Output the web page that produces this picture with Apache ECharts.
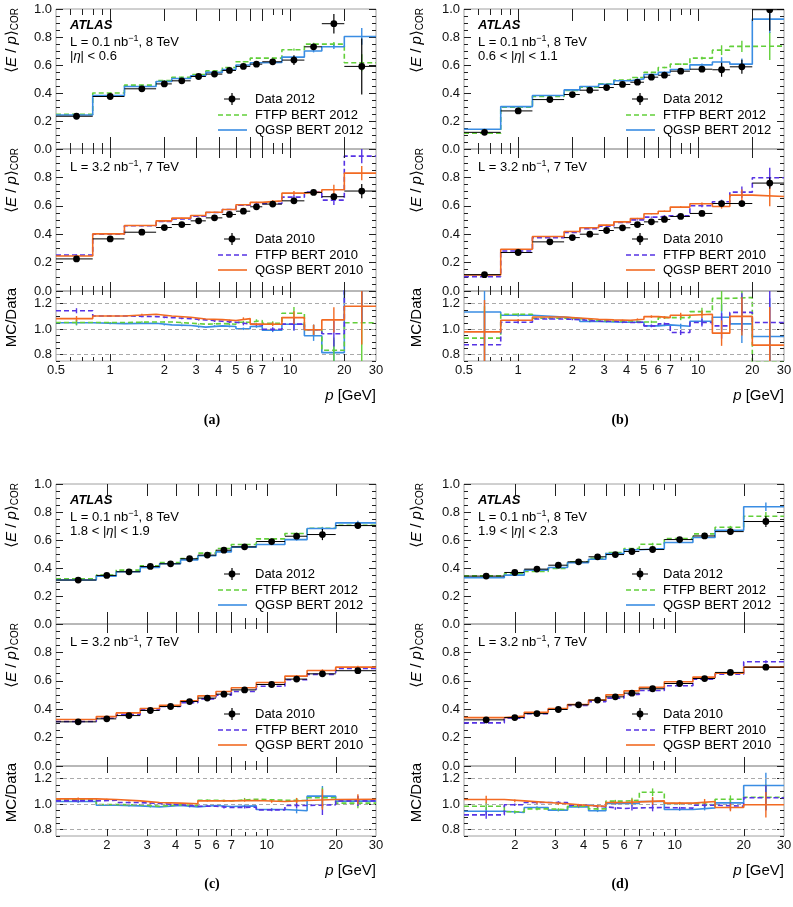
<!DOCTYPE html>
<html><head><meta charset="utf-8">
<script src="https://cdn.jsdelivr.net/npm/echarts@6/dist/echarts.min.js"></script>
<style>html,body{margin:0;padding:0;background:#fff}#c{width:793px;height:907px}</style>
</head><body><div id="c"></div>
<script>
// ---------- bins & ticks ----------
const binsAB = [0.5,0.8,1.2,1.8,2.2,2.8,3.4,4.2,5,6,7,9,12,15,20,30];
const binsCD = [1.2,1.8,2.2,2.8,3.4,4.2,5,6,7,9,12,15,20,30];
const majorTicksAB = [1,2,3,4,5,6,7,10,20];
const minorTicksAB = [0.6,0.7,0.8,0.9,8,9];
const tickLabelsAB = [0.5,1,2,3,4,5,6,7,10,20,30];
const majorTicksCD = [2,3,4,5,6,7,10,20];
const minorTicksCD = [8,9];
const tickLabelsCD = [2,3,4,5,6,7,10,20,30];
const ratioTickLabels = [0.8,1.0,1.2];
const etaLabels = ['|{i|η}| < 0.6','0.6 < |{i|η}| < 1.1','1.8 < |{i|η}| < 1.9','1.9 < |{i|η}| < 2.3'];
const panelTags = ['(a)','(b)','(c)','(d)'];

// ---------- panel (a) ----------
const a_data12 = [0.234,0.375,0.430,0.465,0.487,0.518,0.535,0.561,0.590,0.606,0.623,0.635,0.730,0.895,0.590];
const a_data12Err = [0.006,0.006,0.006,0.006,0.006,0.006,0.006,0.007,0.008,0.010,0.012,0.035,0.012,0.07,0.20];
const a_ftfp12 = [0.248,0.400,0.456,0.489,0.513,0.532,0.558,0.582,0.623,0.649,0.649,0.709,0.749,0.749,0.616];
const a_qgsp12 = [0.243,0.382,0.446,0.482,0.504,0.523,0.547,0.568,0.600,0.616,0.618,0.656,0.700,0.730,0.804];
const a_mc12Err = [0.003,0.003,0.003,0.003,0.003,0.003,0.003,0.003,0.004,0.004,0.005,0.008,0.01,0.015,0.06];
const a_data10 = [0.226,0.367,0.414,0.447,0.468,0.494,0.515,0.539,0.562,0.593,0.612,0.635,0.694,0.664,0.704];
const a_data10Err = [0.004,0.004,0.004,0.004,0.004,0.004,0.004,0.005,0.005,0.006,0.007,0.008,0.01,0.02,0.05];
const a_ftfp10 = [0.254,0.400,0.459,0.489,0.508,0.527,0.553,0.574,0.605,0.616,0.616,0.661,0.696,0.640,0.950];
const a_qgsp10 = [0.247,0.402,0.461,0.494,0.513,0.532,0.555,0.574,0.607,0.624,0.635,0.689,0.696,0.713,0.830];
const a_mc10Err = [0.003,0.003,0.003,0.003,0.003,0.003,0.003,0.003,0.004,0.004,0.005,0.015,0.01,0.035,0.05];
const a_rFtfp12 = [1.052,1.052,1.057,1.057,1.047,1.039,1.044,1.039,1.055,1.068,1.047,1.125,0.995,0.834,1.050];
const a_rQgsp12 = [1.050,1.044,1.047,1.034,1.029,1.016,1.026,1.021,1.003,1.021,0.992,1.039,0.948,0.816,1.360];
const a_rFtfp10 = [1.145,1.104,1.099,1.091,1.083,1.073,1.062,1.055,1.040,1.034,1.000,1.040,0.995,0.964,1.350];
const a_rQgsp10 = [1.083,1.104,1.117,1.104,1.094,1.080,1.075,1.068,1.083,1.040,1.039,1.091,0.995,1.073,1.180];
const a_rErr = [0.02,0.005,0.005,0.005,0.005,0.005,0.005,0.007,0.01,0.01,0.015,0.05,0.04,0.1,0.3];

// ---------- panel (b) ----------
const b_data12 = [0.119,0.272,0.353,0.389,0.420,0.439,0.461,0.477,0.513,0.527,0.556,0.570,0.566,0.587,0.995];
const b_data12Err = [0.005,0.005,0.005,0.005,0.005,0.005,0.005,0.006,0.007,0.008,0.01,0.015,0.05,0.05,0.15];
const b_ftfp12 = [0.112,0.298,0.375,0.418,0.441,0.465,0.492,0.511,0.547,0.582,0.606,0.649,0.706,0.733,0.735];
const b_qgsp12 = [0.141,0.303,0.382,0.422,0.446,0.463,0.487,0.501,0.532,0.547,0.568,0.601,0.621,0.606,0.928];
const b_mc12Err = [0.004,0.003,0.003,0.003,0.003,0.003,0.003,0.004,0.004,0.005,0.006,0.01,0.035,0.04,0.1];
const b_data10 = [0.115,0.271,0.346,0.376,0.400,0.426,0.445,0.468,0.487,0.504,0.525,0.546,0.616,0.616,0.760];
const b_data10Err = [0.005,0.004,0.004,0.004,0.004,0.004,0.004,0.005,0.005,0.006,0.007,0.01,0.015,0.02,0.04];
const b_ftfp10 = [0.101,0.282,0.376,0.412,0.438,0.456,0.482,0.501,0.520,0.529,0.529,0.600,0.628,0.696,0.798];
const b_qgsp10 = [0.113,0.294,0.384,0.419,0.445,0.464,0.487,0.511,0.544,0.562,0.591,0.614,0.595,0.675,0.666];
const b_mc10Err = [0.004,0.003,0.003,0.003,0.003,0.003,0.003,0.004,0.004,0.005,0.006,0.01,0.015,0.04,0.07];
const b_rFtfp12 = [0.930,1.117,1.086,1.083,1.068,1.062,1.065,1.057,1.057,1.091,1.091,1.138,1.242,1.249,0.740];
const b_rQgsp12 = [1.135,1.109,1.096,1.083,1.060,1.057,1.055,1.055,1.026,1.034,1.023,1.062,1.094,1.042,0.943];
const b_rFtfp10 = [0.878,1.055,1.080,1.075,1.062,1.062,1.052,1.055,1.026,1.042,0.974,1.052,1.026,1.132,1.052];
const b_rQgsp10 = [0.979,1.070,1.096,1.088,1.078,1.073,1.070,1.078,1.099,1.091,1.109,1.117,0.969,1.101,0.875];
const b_rErr = [0.25,0.01,0.005,0.005,0.005,0.005,0.005,0.007,0.01,0.01,0.02,0.03,0.1,0.15,0.3];

// ---------- panel (c) ----------
const c_data12 = [0.314,0.347,0.373,0.411,0.430,0.466,0.492,0.527,0.551,0.589,0.627,0.639,0.703];
const c_data12Err = [0.004,0.004,0.004,0.004,0.004,0.005,0.005,0.006,0.007,0.01,0.012,0.04,0.02];
const c_ftfp12 = [0.323,0.349,0.385,0.416,0.439,0.468,0.506,0.539,0.568,0.608,0.646,0.684,0.705];
const c_qgsp12 = [0.314,0.342,0.373,0.404,0.430,0.458,0.487,0.515,0.549,0.568,0.603,0.682,0.722];
const c_mc12Err = [0.003,0.003,0.003,0.003,0.003,0.003,0.003,0.004,0.004,0.005,0.008,0.01,0.015];
const c_data10 = [0.311,0.332,0.355,0.391,0.419,0.454,0.478,0.506,0.536,0.574,0.612,0.649,0.671];
const c_data10Err = [0.003,0.003,0.003,0.003,0.003,0.004,0.004,0.005,0.005,0.006,0.008,0.01,0.015];
const c_ftfp10 = [0.313,0.336,0.362,0.395,0.419,0.445,0.473,0.499,0.525,0.562,0.607,0.645,0.687];
const c_qgsp10 = [0.327,0.348,0.374,0.405,0.428,0.459,0.494,0.525,0.551,0.588,0.633,0.673,0.696];
const c_mc10Err = [0.003,0.003,0.003,0.003,0.003,0.003,0.003,0.004,0.004,0.005,0.006,0.008,0.01];
const c_rFtfp12 = [1.037,0.997,0.995,0.984,0.995,0.990,1.031,1.026,1.039,1.031,1.029,1.050,1.008];
const c_rQgsp12 = [1.021,0.992,0.987,0.979,0.990,0.979,0.990,0.982,0.987,0.958,0.948,1.063,1.024];
const c_rFtfp10 = [1.026,1.031,1.013,1.005,0.995,0.984,0.984,0.974,0.976,0.955,0.990,0.995,1.026];
const c_rQgsp10 = [1.042,1.037,1.026,1.013,1.008,1.003,1.026,1.026,1.029,1.021,1.029,1.037,1.039];
const c_rErr = [0.01,0.005,0.005,0.005,0.005,0.005,0.006,0.008,0.01,0.01,0.02,0.08,0.04];

// ---------- panel (d) ----------
const d_data12 = [0.342,0.368,0.392,0.420,0.444,0.480,0.496,0.518,0.532,0.603,0.629,0.660,0.732];
const d_data12Err = [0.004,0.004,0.004,0.004,0.004,0.005,0.005,0.006,0.007,0.01,0.012,0.015,0.04];
const d_ftfp12 = [0.344,0.359,0.375,0.397,0.444,0.470,0.511,0.539,0.570,0.610,0.644,0.691,0.770];
const d_qgsp12 = [0.330,0.349,0.385,0.404,0.437,0.463,0.504,0.530,0.539,0.582,0.618,0.670,0.838];
const d_mc12Err = [0.004,0.003,0.003,0.003,0.003,0.003,0.004,0.004,0.01,0.005,0.008,0.01,0.03];
const d_data10 = [0.325,0.341,0.369,0.398,0.431,0.464,0.487,0.513,0.544,0.581,0.616,0.659,0.696];
const d_data10Err = [0.003,0.003,0.003,0.003,0.003,0.004,0.004,0.005,0.005,0.006,0.008,0.01,0.015];
const d_ftfp10 = [0.304,0.336,0.369,0.400,0.426,0.452,0.478,0.504,0.532,0.565,0.612,0.647,0.734];
const d_qgsp10 = [0.341,0.351,0.379,0.405,0.433,0.464,0.501,0.529,0.555,0.593,0.626,0.654,0.696];
const d_mc10Err = [0.003,0.003,0.003,0.003,0.003,0.003,0.003,0.004,0.004,0.005,0.006,0.008,0.01];
const d_rFtfp12 = [0.984,0.940,0.963,0.958,0.984,0.963,1.024,1.031,1.094,1.005,0.995,1.039,1.055];
const d_rQgsp12 = [0.945,0.935,0.974,0.953,0.979,0.948,1.005,1.005,1.021,0.958,0.971,1.010,1.147];
const d_rFtfp10 = [0.916,0.995,1.013,1.013,0.992,0.979,0.966,0.971,0.974,0.969,0.992,0.984,1.050];
const d_rQgsp10 = [1.037,1.026,1.013,1.003,0.990,0.984,1.013,1.018,1.026,1.008,1.021,0.974,0.995];
const d_rErr = [0.03,0.01,0.01,0.01,0.01,0.01,0.01,0.02,0.03,0.01,0.02,0.03,0.1];

// ---------- assemble ----------
const panels = [
  {bins:binsAB, xmin:0.5, major:majorTicksAB, minor:minorTicksAB, labels:tickLabelsAB,
   d12:a_data12,e12:a_data12Err,f12:a_ftfp12,q12:a_qgsp12,m12:a_mc12Err,
   d10:a_data10,e10:a_data10Err,f10:a_ftfp10,q10:a_qgsp10,m10:a_mc10Err,
   rf12:a_rFtfp12,rq12:a_rQgsp12,rf10:a_rFtfp10,rq10:a_rQgsp10,re:a_rErr},
  {bins:binsAB, xmin:0.5, major:majorTicksAB, minor:minorTicksAB, labels:tickLabelsAB,
   d12:b_data12,e12:b_data12Err,f12:b_ftfp12,q12:b_qgsp12,m12:b_mc12Err,
   d10:b_data10,e10:b_data10Err,f10:b_ftfp10,q10:b_qgsp10,m10:b_mc10Err,
   rf12:b_rFtfp12,rq12:b_rQgsp12,rf10:b_rFtfp10,rq10:b_rQgsp10,re:b_rErr},
  {bins:binsCD, xmin:1.2, major:majorTicksCD, minor:minorTicksCD, labels:tickLabelsCD,
   d12:c_data12,e12:c_data12Err,f12:c_ftfp12,q12:c_qgsp12,m12:c_mc12Err,
   d10:c_data10,e10:c_data10Err,f10:c_ftfp10,q10:c_qgsp10,m10:c_mc10Err,
   rf12:c_rFtfp12,rq12:c_rQgsp12,rf10:c_rFtfp10,rq10:c_rQgsp10,re:c_rErr},
  {bins:binsCD, xmin:1.2, major:majorTicksCD, minor:minorTicksCD, labels:tickLabelsCD,
   d12:d_data12,e12:d_data12Err,f12:d_ftfp12,q12:d_qgsp12,m12:d_mc12Err,
   d10:d_data10,e10:d_data10Err,f10:d_ftfp10,q10:d_qgsp10,m10:d_mc10Err,
   rf12:d_rFtfp12,rq12:d_rQgsp12,rf10:d_rFtfp10,rq10:d_rQgsp10,re:d_rErr}
];
const pos = [{L:56,T:9},{L:464,T:9},{L:56,T:484},{L:464,T:484}];
const W = 320, H1 = 140, H2 = 142, H3 = 70;
const FONT = '"Liberation Sans", Arial, Helvetica, "DejaVu Sans", sans-serif';
const C = {f12:'#62cf3a', q12:'#3a8de3', f10:'#5633e4', q10:'#f26a22'};
const TICKC = '#222';

const grids=[], xAxis=[], yAxis=[], series=[], graphic=[];

function yAx(gi, o){ yAxis.push(Object.assign({type:'value', gridIndex:gi, axisLine:{show:false}, splitLine:{show:false}}, o)); return yAxis.length-1; }
function unitAxes(gi, hideMax){
  const tick = {show:true, inside:true, length:7, lineStyle:{color:TICKC, width:1}};
  const mtick = {show:true, splitNumber:4, length:4, lineStyle:{color:TICKC, width:1}};
  const main = yAx(gi,{min:0,max:1,interval:0.2,position:'left',axisTick:tick,minorTick:mtick,
    axisLabel:{show:true,margin:4,fontSize:13,fontFamily:FONT,color:'#111',formatter:v=>v.toFixed(1),showMaxLabel:!hideMax,showMinLabel:true}});
  yAx(gi,{min:0,max:1,interval:0.2,position:'right',axisTick:tick,minorTick:mtick,axisLabel:{show:false}});
  return main;
}
function ratioAxes(gi){
  const isLab = v => ratioTickLabels.some(t=>Math.abs(t-v)<1e-6);
  const mt = {show:true, inside:true, length:4, lineStyle:{color:TICKC, width:1}};
  const Mt = {show:true, inside:true, length:7, customValues:ratioTickLabels, lineStyle:{color:TICKC, width:1}};
  const main = yAx(gi,{min:0.75,max:1.3,interval:0.05,position:'left',axisTick:mt,
    axisLabel:{show:true,margin:4,fontSize:13,fontFamily:FONT,color:'#111',formatter:v=>isLab(v)?v.toFixed(1):''}});
  yAx(gi,{min:0.75,max:1.3,position:'left',axisTick:Mt,axisLabel:{show:false}});
  yAx(gi,{min:0.75,max:1.3,interval:0.05,position:'right',axisTick:mt,axisLabel:{show:false}});
  yAx(gi,{min:0.75,max:1.3,position:'right',axisTick:Mt,axisLabel:{show:false}});
  return main;
}
function edgesData(bins, vals){ return bins.map((e,i)=>[e, vals[Math.min(i, vals.length-1)]]); }
function stepLine(xi, yi, bins, vals, color, dashed, z){
  return {type:'line', xAxisIndex:xi, yAxisIndex:yi, step:'end', symbol:'none', showSymbol:false, silent:true, clip:true,
    z:z, data:edgesData(bins, vals), lineStyle:{color:color, width:1.6, type: dashed ? [5,3] : 'solid'}};
}
function centers(bins, vals, errs){ return vals.map((v,i)=>[(bins[i]+bins[i+1])/2, v, bins[i], bins[i+1], errs[i]]); }
function errSeries(xi, yi, bins, vals, errs, color, z){
  return {type:'custom', xAxisIndex:xi, yAxisIndex:yi, silent:true, clip:true, z:z, data:centers(bins, vals, errs),
    renderItem:(p, api)=>{
      const t = api.coord([api.value(0), api.value(1)+api.value(4)]);
      const b = api.coord([api.value(0), api.value(1)-api.value(4)]);
      return {type:'line', shape:{x1:t[0],y1:t[1],x2:b[0],y2:b[1]}, style:{stroke:color, lineWidth:1.4}};
    }};
}
function dataSeries(xi, yi, bins, vals, errs){
  return {type:'custom', xAxisIndex:xi, yAxisIndex:yi, silent:true, clip:true, z:10, data:centers(bins, vals, errs),
    renderItem:(p, api)=>{
      const c = api.coord([api.value(0), api.value(1)]);
      const l = api.coord([api.value(2), api.value(1)]);
      const r = api.coord([api.value(3), api.value(1)]);
      const t = api.coord([api.value(0), api.value(1)+api.value(4)]);
      const b = api.coord([api.value(0), api.value(1)-api.value(4)]);
      return {type:'group', children:[
        {type:'line', shape:{x1:l[0],y1:c[1],x2:r[0],y2:c[1]}, style:{stroke:'#000', lineWidth:1}},
        {type:'line', shape:{x1:c[0],y1:t[1],x2:c[0],y2:b[1]}, style:{stroke:'#000', lineWidth:1.2}},
        {type:'circle', shape:{cx:c[0],cy:c[1],r:3.4}, style:{fill:'#000'}}
      ]};
    }};
}
function tickSeries(xi, yi, vals, yv, lenB, lenT){
  return {type:'custom', xAxisIndex:xi, yAxisIndex:yi, silent:true, clip:false, z:6, data:vals.map(v=>[v,yv]),
    renderItem:(p, api)=>{
      const cs = p.coordSys; const x = Math.round(api.coord([api.value(0), api.value(1)])[0]) + 0.5;
      const ch = [];
      if (lenB) ch.push({type:'line', shape:{x1:x,y1:cs.y+cs.height,x2:x,y2:cs.y+cs.height-lenB}, style:{stroke:TICKC,lineWidth:1}});
      if (lenT) ch.push({type:'line', shape:{x1:x,y1:cs.y,x2:x,y2:cs.y+lenT}, style:{stroke:TICKC,lineWidth:1}});
      return {type:'group', children:ch};
    }};
}
function labelSeries(xi, yi, vals, yv){
  return {type:'custom', xAxisIndex:xi, yAxisIndex:yi, silent:true, clip:false, z:6, data:vals.map(v=>[v,yv]),
    renderItem:(p, api)=>{
      const cs = p.coordSys; const x = api.coord([api.value(0), api.value(1)])[0];
      return {type:'text', x:x, y:cs.y+cs.height+3, style:{text:String(api.value(0)), align:'center', verticalAlign:'top',
        textAlign:'center', textVerticalAlign:'top', fontSize:13, fontFamily:FONT, fill:'#111'}};
    }};
}
function txt(x, y, text, o){
  graphic.push({type:'text', x:x, y:y, silent:true, z:100, rotation:(o&&o.rot)||0,
    style:Object.assign({text:text, fontSize:13, fontFamily:FONT, fill:'#000', align:'left', verticalAlign:'middle'}, o&&o.style||{})});
}
function ln(x1,y1,x2,y2,color,dash,w){
  graphic.push({type:'line', silent:true, z:100, shape:{x1,y1,x2,y2}, style:{stroke:color, lineWidth:w||1.6, lineDash:dash||null}});
}
function legend(L, T, year, fc, qc, fDash){
  const my = T+90;
  ln(L+168, my, L+184, my, '#000', null, 1);
  ln(L+176, my-6, L+176, my+6, '#000', null, 1.2);
  graphic.push({type:'circle', silent:true, z:100, shape:{cx:L+176, cy:my, r:3.4}, style:{fill:'#000'}});
  txt(L+199, my, 'Data '+year);
  ln(L+162, T+106, L+191, T+106, fc, [5,3]);
  txt(L+199, T+106, 'FTFP BERT '+year);
  ln(L+162, T+121, L+191, T+121, qc, null);
  txt(L+199, T+121, 'QGSP BERT '+year);
}
const richBase = {
  n:{fontSize:15, fontFamily:FONT}, i:{fontSize:15, fontFamily:FONT, fontStyle:'italic'},
  s:{fontSize:10, fontFamily:FONT, verticalAlign:'bottom', padding:[6,0,0,0]}
};
const smallRich = {
  n:{fontSize:13, fontFamily:FONT}, i:{fontSize:13, fontFamily:FONT, fontStyle:'italic'},
  sup:{fontSize:9, fontFamily:FONT, verticalAlign:'top', padding:[0,0,7,0]}
};

panels.forEach((P, k) => {
  const {L, T} = pos[k];
  const g0 = grids.length;
  const tops = [T, T+H1, T+H1+H2], hs = [H1, H2, H3];
  for (let j=0;j<3;j++){
    grids.push({left:L, top:tops[j], width:W, height:hs[j], show:true, borderColor:'#a0a0a0', borderWidth:1,
      backgroundColor:'transparent', containLabel:false, outerBoundsMode:'none'});
    xAxis.push({type:'log', logBase:10, gridIndex:g0+j, min:P.xmin, max:30, axisLine:{show:false}, axisTick:{show:false},
      axisLabel:{show:false}, splitLine:{show:false}, minorTick:{show:false}, minorSplitLine:{show:false}});
  }
  const y0 = unitAxes(g0, false), y1 = unitAxes(g0+1, true), y2 = ratioAxes(g0+2);
  const tl = [[12,6],[9,5],[7,4]];
  [[g0,y0,0.5],[g0+1,y1,0.5],[g0+2,y2,1.0]].forEach(([xi, yi, yv], j) => {
    series.push(tickSeries(xi, yi, P.major, yv, tl[j][0], tl[j][0]));
    series.push(tickSeries(xi, yi, P.minor, yv, tl[j][1], tl[j][1]));
  });
  series.push(labelSeries(g0+2, y2, P.labels, 1.0));
  // top: 2012
  series.push(stepLine(g0, y0, P.bins, P.f12, C.f12, true, 3));
  series.push(stepLine(g0, y0, P.bins, P.q12, C.q12, false, 4));
  series.push(errSeries(g0, y0, P.bins, P.f12, P.m12, C.f12, 3));
  series.push(errSeries(g0, y0, P.bins, P.q12, P.m12, C.q12, 4));
  series.push(dataSeries(g0, y0, P.bins, P.d12, P.e12));
  // middle: 2010
  series.push(stepLine(g0+1, y1, P.bins, P.f10, C.f10, true, 3));
  series.push(stepLine(g0+1, y1, P.bins, P.q10, C.q10, false, 4));
  series.push(errSeries(g0+1, y1, P.bins, P.f10, P.m10, C.f10, 3));
  series.push(errSeries(g0+1, y1, P.bins, P.q10, P.m10, C.q10, 4));
  series.push(dataSeries(g0+1, y1, P.bins, P.d10, P.e10));
  // ratio
  const rl = stepLine(g0+2, y2, P.bins, P.rq12, C.q12, false, 3);
  rl.markLine = {silent:true, symbol:'none', animation:false, label:{show:false},
    lineStyle:{color:'#aaaaaa', type:[4,3], width:1}, data: ratioTickLabels.map(v=>({yAxis:v}))};
  series.push(rl);
  series.push(errSeries(g0+2, y2, P.bins, P.rq12, P.re, C.q12, 3));
  series.push(stepLine(g0+2, y2, P.bins, P.rf12, C.f12, true, 4));
  series.push(errSeries(g0+2, y2, P.bins, P.rf12, P.re, C.f12, 4));
  series.push(stepLine(g0+2, y2, P.bins, P.rf10, C.f10, true, 5));
  series.push(errSeries(g0+2, y2, P.bins, P.rf10, P.re, C.f10, 5));
  series.push(stepLine(g0+2, y2, P.bins, P.rq10, C.q10, false, 6));
  series.push(errSeries(g0+2, y2, P.bins, P.rq10, P.re, C.q10, 6));

  // texts
  const yt = L - (k%2 ? 47 : 44);
  txt(yt, T-1, '{n|⟨}{i|E}{n| / }{i|p}{n|⟩}{s|COR}', {rot:Math.PI/2, style:{align:'right', rich:richBase}});
  txt(yt, T+H1-1, '{n|⟨}{i|E}{n| / }{i|p}{n|⟩}{s|COR}', {rot:Math.PI/2, style:{align:'right', rich:richBase}});
  txt(yt, T+H1+H2-3, 'MC/Data', {rot:Math.PI/2, style:{align:'right', fontSize:15}});
  txt(L+14, T+16, 'ATLAS', {style:{fontWeight:'bold', fontStyle:'italic', fontSize:13}});
  txt(L+14, T+33, '{n|L = 0.1 nb}{sup|−1}{n|, 8 TeV}', {style:{rich:smallRich}});
  txt(L+14, T+47, '{n|'+etaLabels[k].replace('{i|η}','}{i|η}{n|')+'}', {style:{rich:smallRich}});
  txt(L+14, T+H1+18, '{n|L = 3.2 nb}{sup|−1}{n|, 7 TeV}', {style:{rich:smallRich}});
  legend(L, T, '2012', C.f12, C.q12);
  legend(L, T+H1, '2010', C.f10, C.q10);
  const rb = T+H1+H2+H3;
  txt(L+W, rb+35, '{i|p}{n| [GeV]}', {style:{align:'right', rich:richBase}});
  txt(L+156, k<2 ? 420 : 884, panelTags[k], {style:{align:'center', fontFamily:'"Liberation Serif", "Times New Roman", serif', fontWeight:'bold', fontSize:14}});
});

const chart = echarts.init(document.getElementById('c'), null, {renderer:'canvas'});
chart.setOption({animation:false, backgroundColor:'#fff', grid:grids, xAxis:xAxis, yAxis:yAxis, series:series, graphic:graphic});
</script></body></html>
